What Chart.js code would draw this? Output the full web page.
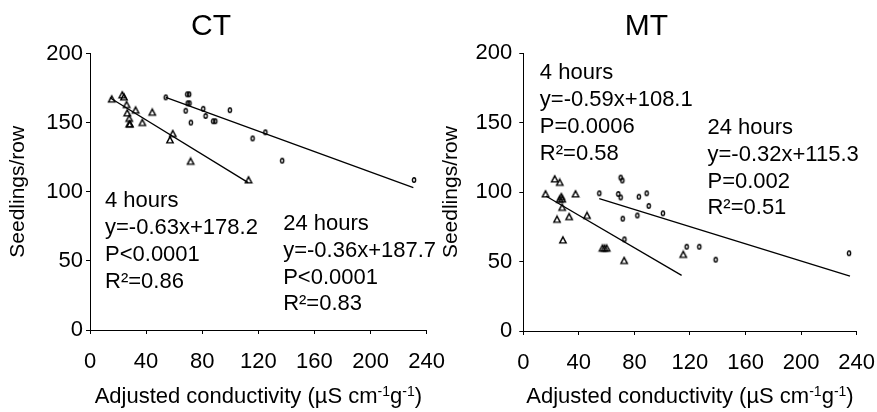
<!DOCTYPE html>
<html><head><meta charset="utf-8">
<script src="https://cdn.jsdelivr.net/npm/chart.js@4/dist/chart.umd.min.js"></script>
<style>
html,body{margin:0;padding:0;background:#fff;width:877px;height:412px;overflow:hidden;position:relative}
#wl{position:absolute;left:0;top:0;width:460px;height:412px}
#wr{position:absolute;left:440px;top:0;width:437px;height:412px;overflow:hidden}
canvas{display:block}
</style></head><body>
<div id="wl"><canvas id="cl" width="460" height="412"></canvas></div>
<div id="wr"><canvas id="cr" width="450" height="412"></canvas></div>
<script>
// ---- data ----
const xTicks = [0, 40, 80, 120, 160, 200, 240];
const yTicks = [0, 50, 100, 150, 200];
const xTitle = ["Adjusted conductivity (µS cm", "-1", "g", "-1", ")"];
const yTitle = "Seedlings/row";

// CT panel
const ctTitle = "CT";
const ct4hX = [15.5, 23, 24.2, 26.1, 26.6, 28, 28, 28.5, 32.5, 37.3, 44.4, 57, 59, 71.7, 113];
const ct4hY = [167, 170, 168.5, 163, 157, 153, 149, 149, 159, 150, 157.5, 137.5, 142, 122, 108.5];
const ct24hX = [54, 69.3, 70.7, 69.6, 70.9, 68.2, 80.7, 82.4, 71.9, 87.8, 89.3, 99.7, 115.9, 125, 137, 231];
const ct24hY = [168.3, 170.5, 170.5, 164, 164, 158.6, 160, 154.8, 150, 151, 151, 159, 138.6, 143, 122.5, 108.5];
const ct4hFitX = [14.2, 112.8];
const ct4hFitY = [168, 106.6];
const ct24hFitX = [54, 230.5];
const ct24hFitY = [168.3, 103];
const ct4hText = ["4 hours", "y=-0.63x+178.2", "P<0.0001", "R²=0.86"];
const ct24hText = ["24 hours", "y=-0.36x+187.7", "P<0.0001", "R²=0.83"];

// MT panel
const mtTitle = "MT";
const mt4hX = [16, 22.6, 26.2, 26.2, 27.4, 28, 28, 24.3, 28.5, 33, 37.6, 45.9, 57, 58.5, 60, 72.6, 115.2];
const mt4hY = [98.7, 109.5, 107, 94.8, 96.7, 95, 89, 80.4, 65.5, 82.3, 98.7, 83.2, 59.6, 59.6, 59.6, 50.7, 55.1];
const mt24hX = [54.7, 70.1, 71.3, 68.4, 70.1, 71.6, 83.2, 88.8, 90.3, 82.1, 100.5, 72.8, 117.6, 126.7, 138.5, 234.5];
const mt24hY = [99.2, 110.5, 108.4, 98.7, 96.2, 80.9, 96.7, 99.2, 90.1, 83.2, 84.8, 66, 60.7, 60.7, 51.4, 56];
const mt4hFitX = [16.2, 114];
const mt4hFitY = [97.2, 40.1];
const mt24hFitX = [54.7, 235.2];
const mt24hFitY = [95.3, 39.6];
const mt4hText = ["4 hours", "y=-0.59x+108.1", "P=0.0006", "R²=0.58"];
const mt24hText = ["24 hours", "y=-0.32x+115.3", "P=0.002", "R²=0.51"];

// ---- rendering ----
const FONT = "'Liberation Sans', Arial, Helvetica, sans-serif";
function pts(xs, ys) { return xs.map((x, i) => ({ x: x, y: ys[i] })); }

function ellipseImg() {
  const c = document.createElement('canvas');
  c.width = 8; c.height = 8;
  const g = c.getContext('2d');
  g.strokeStyle = '#000'; g.lineWidth = 1.4;
  g.beginPath(); g.ellipse(4, 4, 1.6, 2.3, 0, 0, Math.PI * 2); g.stroke();
  return c;
}
function triangleImg() {
  const c = document.createElement('canvas');
  c.width = 10; c.height = 10;
  const g = c.getContext('2d');
  g.strokeStyle = '#000'; g.lineWidth = 1.4; g.lineJoin = 'miter';
  g.beginPath(); g.moveTo(5, 1.8); g.lineTo(8.2, 7.9); g.lineTo(1.8, 7.9); g.closePath(); g.stroke();
  return c;
}
const ellipse = ellipseImg();
const tri = triangleImg();

const textPlugin = {
  id: 'textLayer',
  afterDraw(chart, args, opts) {
    const ctx = chart.ctx, a = chart.chartArea;
    const xs = chart.scales.x, ys = chart.scales.y;
    ctx.save();
    ctx.fillStyle = '#000';
    // panel title
    ctx.font = '30px ' + FONT;
    ctx.textAlign = 'center'; ctx.textBaseline = 'alphabetic';
    ctx.fillText(opts.title, a.left + opts.titleDx, 35);
    // y title
    ctx.save();
    ctx.font = '21px ' + FONT;
    ctx.translate(a.left - 66, (a.top + a.bottom) / 2);
    ctx.rotate(-Math.PI / 2);
    ctx.textAlign = 'center';
    ctx.fillText(yTitle, 0, 0);
    ctx.restore();
    // x title with superscripts
    const big = '22px ' + FONT, small = '14px ' + FONT;
    let w = 0;
    xTitle.forEach((t, i) => { ctx.font = (i % 2 ? small : big); w += ctx.measureText(t).width; });
    let cx = (a.left + a.right) / 2 - w / 2;
    ctx.textAlign = 'left';
    xTitle.forEach((t, i) => {
      ctx.font = (i % 2 ? small : big);
      ctx.fillText(t, cx, i % 2 ? 396 : 403);
      cx += ctx.measureText(t).width;
    });
    // annotations
    ctx.font = '22px ' + FONT;
    ctx.textAlign = 'left';
    opts.notes.forEach(n => {
      const px = xs.getPixelForValue(n.x), py = ys.getPixelForValue(n.y);
      n.lines.forEach((l, i) => ctx.fillText(l, px, py + i * 26.8));
    });
    ctx.restore();
  }
};

function axisCommon(ticksArr, pad) {
  return {
    type: 'linear',
    afterBuildTicks: s => { s.ticks = ticksArr.map(v => ({ value: v })); },
    ticks: { font: { family: FONT, size: 22 }, color: '#000', padding: pad, maxRotation: 0, minRotation: 0, autoSkip: false },
    grid: { drawOnChartArea: false, drawTicks: true, tickLength: 4, color: '#000', lineWidth: 1 },
    border: { display: true, color: '#000', width: 1 }
  };
}

function makeChart(id, c) {
  const xAxis = Object.assign(axisCommon(xTicks, 15), { min: 0, max: 240, afterFit: s => { s.height = c.xh; } });
  const yAxis = Object.assign(axisCommon(yTicks, c.yPad), { min: 0, max: 200, afterFit: s => { s.width = c.yw; } });
  return new Chart(document.getElementById(id), {
    type: 'scatter',
    data: {
      datasets: [
        { data: pts(c.h4x, c.h4y), pointStyle: tri, pointRadius: 4, borderColor: '#000', backgroundColor: 'rgba(0,0,0,0)' },
        { data: pts(c.h24x, c.h24y), pointStyle: ellipse, pointRadius: 3, borderColor: '#000', backgroundColor: 'rgba(0,0,0,0)' },
        { data: pts(c.f4x, c.f4y), showLine: true, pointRadius: 0, borderColor: '#000', borderWidth: 1.3, fill: false },
        { data: pts(c.f24x, c.f24y), showLine: true, pointRadius: 0, borderColor: '#000', borderWidth: 1.3, fill: false }
      ]
    },
    options: {
      responsive: false, animation: false, devicePixelRatio: 1,
      layout: { padding: { top: c.top, right: c.right, left: 0, bottom: 0 } },
      plugins: {
        legend: { display: false }, tooltip: { enabled: false }, title: { display: false },
        textLayer: { title: c.title, titleDx: c.titleDx, notes: c.notes }
      },
      scales: { x: xAxis, y: yAxis }
    },
    plugins: [textPlugin]
  });
}

makeChart('cl', {
  h4x: ct4hX, h4y: ct4hY, h24x: ct24hX, h24y: ct24hY,
  f4x: ct4hFitX, f4y: ct4hFitY, f24x: ct24hFitX, f24y: ct24hFitY,
  title: ctTitle, titleDx: 121, top: 53.5, right: 33, xh: 82, yw: 90, yPad: 3,
  notes: [{ x: 10.7, y: 88.8, lines: ct4hText }, { x: 137.7, y: 72.3, lines: ct24hText }]
});
makeChart('cr', {
  h4x: mt4hX, h4y: mt4hY, h24x: mt24hX, h24y: mt24hY,
  f4x: mt4hFitX, f4y: mt4hFitY, f24x: mt24hFitX, f24y: mt24hFitY,
  title: mtTitle, titleDx: 123, top: 53.3, right: 30, xh: 81, yw: 83.3, yPad: 7,
  notes: [{ x: 11.9, y: 181.3, lines: mt4hText }, { x: 132.6, y: 141.9, lines: mt24hText }]
});
</script>
</body></html>
